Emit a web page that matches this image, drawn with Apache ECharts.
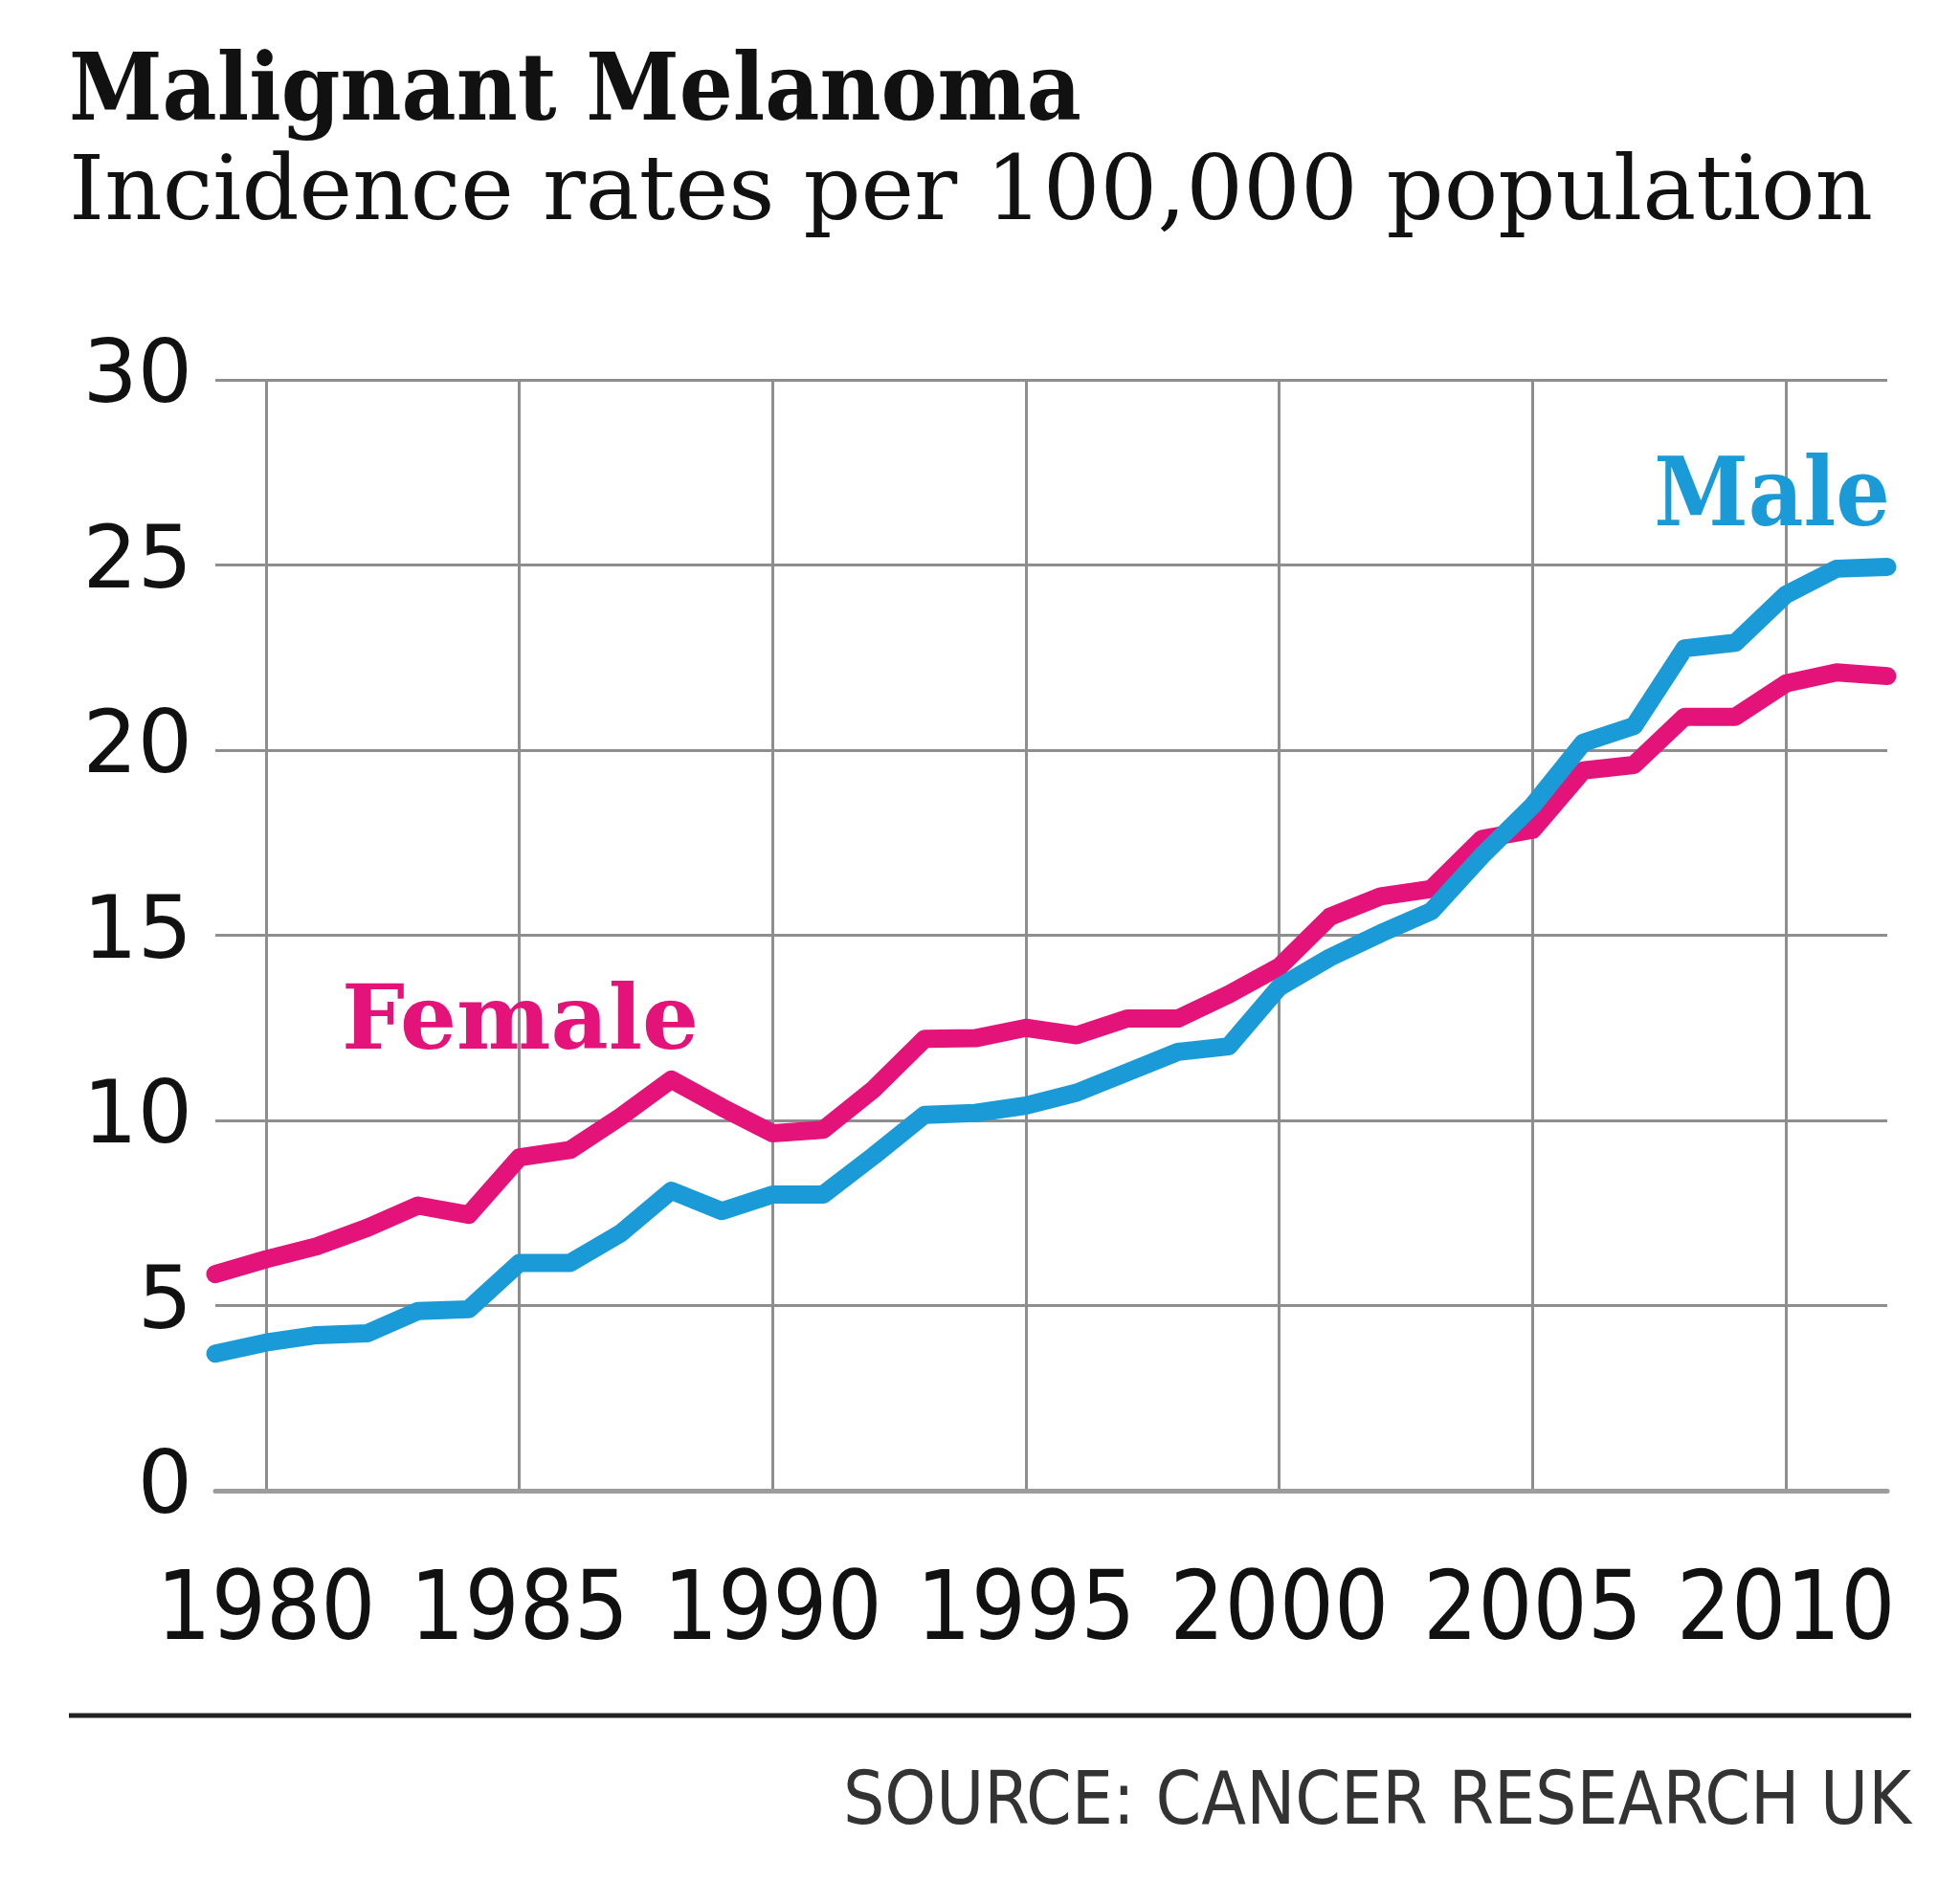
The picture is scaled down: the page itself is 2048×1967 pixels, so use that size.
<!DOCTYPE html>
<html>
<head>
<meta charset="utf-8">
<script src="https://cdn.jsdelivr.net/npm/echarts@6/dist/echarts.min.js"></script>
<style>
html,body{margin:0;padding:0;background:#fff;}
#chart{width:2048px;height:1967px;}
</style>
</head>
<body>
<div id="chart"></div>
<script>
const years = ['1979','1980','1981','1982','1983','1984','1985','1986','1987','1988','1989','1990','1991','1992','1993','1994','1995','1996','1997','1998','1999','2000','2001','2002','2003','2004','2005','2006','2007','2008','2009','2010','2011','2012'];
const female = [5.85,6.25,6.6,7.1,7.7,7.45,9.0,9.2,10.1,11.1,10.35,9.65,9.75,10.85,12.2,12.22,12.5,12.3,12.75,12.75,13.4,14.15,15.5,16.05,16.25,17.6,17.85,19.45,19.6,20.9,20.9,21.8,22.1,22.0];
const male = [3.7,4.0,4.2,4.25,4.85,4.9,6.15,6.15,6.95,8.1,7.55,8.0,8.0,9.05,10.15,10.2,10.4,10.75,11.3,11.85,12.0,13.6,14.4,15.05,15.65,17.15,18.5,20.2,20.65,22.75,22.9,24.2,24.9,24.95];
const yTicks = [0,5,10,15,20,25,30];
const titleText = 'Malignant Melanoma';
const subtitleText = 'Incidence rates per 100,000 population';
const sourceText = 'SOURCE: CANCER RESEARCH UK';

const PINK = '#e3137a';
const BLUE = '#1a9bd7';
const GRID = '#8e8e8e';

const chart = echarts.init(document.getElementById('chart'), null, {renderer:'canvas'});
const every5 = (i, v) => (+v) % 5 === 0;
chart.setOption({
  backgroundColor: '#ffffff',
  animation: false,
  grid: {left: 225, right: 76, top: 397, bottom: 409, containLabel: false},
  xAxis: {
    type: 'category',
    data: years,
    boundaryGap: false,
    axisLine: {show: true, lineStyle: {color: '#9c9c9c', width: 5}},
    axisTick: {show: false},
    axisLabel: {
      interval: every5,
      margin: 79,
      fontFamily: '"DejaVu Sans Condensed", "DejaVu Sans"',
      fontSize: 100,
      color: '#111'
    },
    splitLine: {show: true, interval: every5, lineStyle: {color: GRID, width: 3}}
  },
  yAxis: {
    type: 'value',
    min: yTicks[0],
    max: yTicks[yTicks.length - 1],
    interval: 5,
    axisLine: {show: false},
    axisTick: {show: false},
    axisLabel: {
      margin: 24,
      fontFamily: '"DejaVu Sans"',
      fontSize: 90,
      color: '#111'
    },
    splitLine: {show: true, lineStyle: {color: GRID, width: 3}}
  },
  series: [
    {
      name: 'Female', type: 'line', data: female, showSymbol: false, smooth: false,
      lineStyle: {color: PINK, width: 19, cap: 'round', join: 'round'}, z: 3
    },
    {
      name: 'Male', type: 'line', data: male, showSymbol: false, smooth: false,
      lineStyle: {color: BLUE, width: 19, cap: 'round', join: 'round'}, z: 4
    }
  ],
  graphic: [
    {type: 'text', x: 72, y: 100, style: {text: titleText, font: 'bold 98px "DejaVu Serif Condensed", "DejaVu Serif"', fill: '#111', align: 'left', verticalAlign: 'middle'}},
    {type: 'text', x: 72, y: 205, style: {text: subtitleText, font: '94px "DejaVu Serif"', fill: '#111', align: 'left', verticalAlign: 'middle'}},
    {type: 'text', x: 357, y: 1072, z: 10, style: {text: 'Female', font: 'bold 93px "DejaVu Serif"', fill: PINK, align: 'left', verticalAlign: 'middle'}},
    {type: 'text', x: 1975, y: 523, z: 10, style: {text: 'Male', font: 'bold 99px "DejaVu Serif Condensed", "DejaVu Serif"', fill: BLUE, align: 'right', verticalAlign: 'middle'}},
    {type: 'line', shape: {x1: 72, y1: 1793, x2: 1997, y2: 1793}, style: {stroke: '#222', lineWidth: 5}},
    {type: 'text', x: 1997, y: 1886, style: {text: sourceText, font: '76px "DejaVu Sans Condensed", "DejaVu Sans"', fill: '#333', align: 'right', verticalAlign: 'middle'}}
  ]
});
</script>
</body>
</html>
